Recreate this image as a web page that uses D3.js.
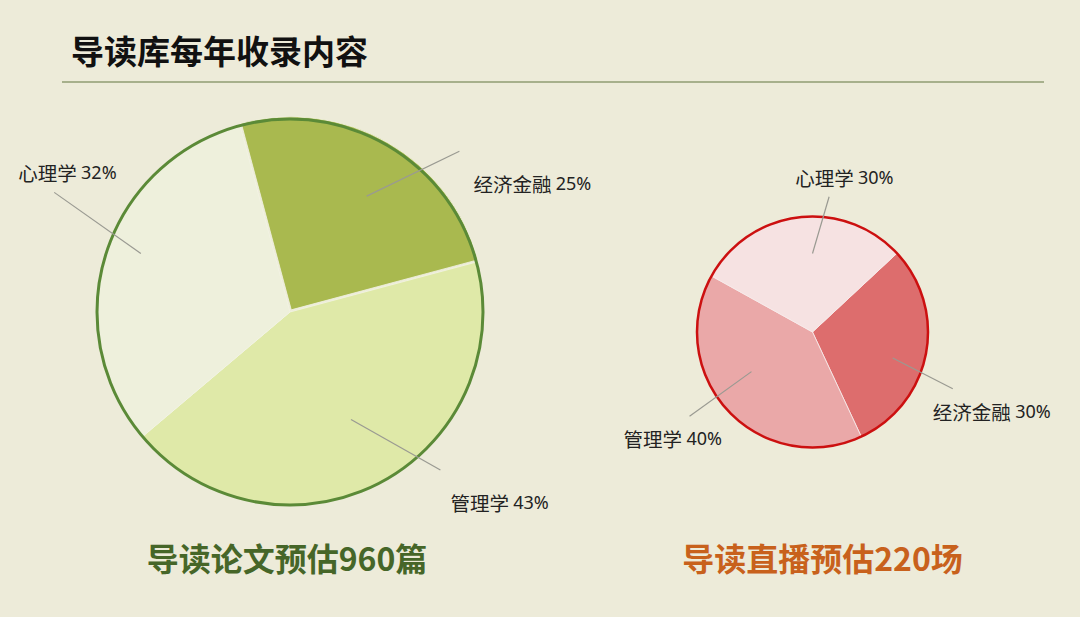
<html>
<script src='https://d3js.org/d3.v7.min.js'></script>
<style>
body { margin: 0; background: #edebd9; }
svg { display: block; }
</style>
<body>
<svg width=1080 height=617></svg>
<script>
// chart data
const pageTitle = "导读库每年收录内容";
const paperTitle = "导读论文预估960篇";
const liveTitle = "导读直播预估220场";
const paperCats = ["经济金融", "管理学", "心理学"];
const paperShares = [25, 43, 32];
const liveCats = ["经济金融", "管理学", "心理学"];
const liveShares = [30, 40, 30];

const svg = d3.select("svg");
const font = "'Noto Sans CJK SC', 'Noto Sans', sans-serif";
const deg = Math.PI / 180;

svg.append("rect").attr("width", 1080).attr("height", 617).attr("fill", "#edebd9");

// header
svg.append("text")
  .attr("x", 71).attr("y", 64)
  .style("font-family", font).style("font-size", "33px").style("font-weight", "bold")
  .attr("fill", "#111")
  .text(pageTitle);

svg.append("line")
  .attr("x1", 62).attr("x2", 1044).attr("y1", 82).attr("y2", 82)
  .attr("stroke", "#8f9c72").attr("stroke-width", 1.5);

function drawPie(opts) {
  const data = opts.cats.map((c, i) => ({ cat: c, value: opts.values[i] }));
  const pie = d3.pie().sort(null).value(d => d.value)
    .startAngle(opts.start * deg).endAngle((opts.start + 360) * deg);
  const arcs = pie(data);
  const arc = d3.arc().innerRadius(0).outerRadius(opts.r);

  const g = svg.append("g").attr("transform", `translate(${opts.cx},${opts.cy})`);

  g.selectAll("path.slice")
    .data(arcs)
    .enter()
    .append("path")
    .attr("class", "slice")
    .attr("d", arc)
    .attr("fill", (d, i) => opts.colors[i])
    .attr("stroke", opts.sliceStroke)
    .attr("stroke-width", 0.8)
    .attr("transform", (d, i) => {
      const m = (d.startAngle + d.endAngle) / 2;
      const o = opts.explode[i];
      return `translate(${Math.sin(m) * o},${-Math.cos(m) * o})`;
    });

  g.append("circle")
    .attr("r", opts.r)
    .attr("fill", "none")
    .attr("stroke", opts.outline)
    .attr("stroke-width", opts.outlineWidth);

  // leader lines and labels
  arcs.forEach((d, i) => {
    const L = opts.leaders[i];
    const m = (d.startAngle + d.endAngle) / 2;
    const a1 = m + L.ia * deg, a2 = m + L.oa * deg;
    const x1 = Math.sin(a1) * opts.r * L.ir, y1 = -Math.cos(a1) * opts.r * L.ir;
    const x2 = Math.sin(a2) * opts.r * L.or, y2 = -Math.cos(a2) * opts.r * L.or;
    g.append("line")
      .attr("x1", x1).attr("y1", y1).attr("x2", x2).attr("y2", y2)
      .attr("stroke", "#9a9a92").attr("stroke-width", 1.2);
    const t = g.append("text")
      .attr("x", x2 + L.dx).attr("y", y2 + L.dy)
      .attr("dominant-baseline", "central")
      .style("font-family", font).style("font-size", "19.5px")
      .attr("fill", "#222");
    t.append("tspan").text(d.data.cat + " ");
    t.append("tspan")
      .style("font-family", "'Liberation Sans Narrow', 'Noto Sans', sans-serif")
      .style("font-size", "18px")
      .text(d.data.value + "%");
  });

  svg.append("text")
    .attr("x", opts.cx + opts.titleDx).attr("y", 571)
    .attr("text-anchor", "middle")
    .style("font-family", font).style("font-size", "32px").style("font-weight", "bold")
    .attr("fill", opts.titleColor)
    .text(opts.title);
}

drawPie({
  cats: paperCats, values: paperShares,
  cx: 290, cy: 312, r: 193, start: -15,
  colors: ["#a9b94f", "#dfe9a8", "#eef0dc"],
  explode: [2.5, 0, 0],
  sliceStroke: "#f3f4e4",
  outline: "#5b8a37", outlineWidth: 3,
  leaders: [
    { ia: 3.5, ir: 0.72, oa: 16.5, or: 1.21, dx: 14, dy: 32 },
    { ia: -2, ir: 0.64, oa: -16, or: 1.13, dx: 10, dy: 32 },
    { ia: 4, ir: 0.83, oa: 9.5, or: 1.37, dx: -36, dy: -20 }
  ],
  title: paperTitle, titleColor: "#466628", titleDx: -3
});

drawPie({
  cats: liveCats, values: liveShares,
  cx: 812.5, cy: 332, r: 115.5, start: 47,
  colors: ["#dd6d6d", "#eaa8a8", "#f6e2e2"],
  explode: [0, 0, 0],
  sliceStroke: "#f7ecec",
  outline: "#cc1010", outlineWidth: 2.5,
  leaders: [
    { ia: 7, ir: 0.73, oa: 11, or: 1.31, dx: -20, dy: 22 },
    { ia: 10, ir: 0.63, oa: 8.6, or: 1.29, dx: -66, dy: 22 },
    { ia: 7, ir: 0.68, oa: 14, or: 1.18, dx: -34, dy: -20 }
  ],
  title: liveTitle, titleColor: "#c8611c", titleDx: 10
});
</script>
</body>
</html>
